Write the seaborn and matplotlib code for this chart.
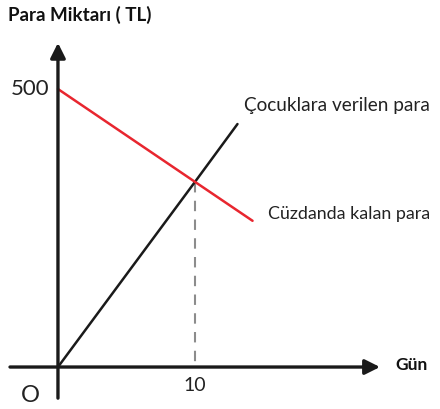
import numpy as np
import pandas as pd
import matplotlib
matplotlib.use("Agg")
import matplotlib.pyplot as plt
import seaborn as sns

# ------------------------------------------------------------
# Dati
# ------------------------------------------------------------
gun_kalan = [0, 10, 14.2]
kalan_para = [500, 333, 263]

gun_verilen = [0, 10, 13.1]
verilen_para = [0, 333, 437]

kesisim_gun = 10
kesisim_para = 333
y_tick = 500

sns.set_style("white")
plt.rcParams["font.family"] = ["Lato", "DejaVu Sans"]

fig = plt.figure(figsize=(4.4, 4.09), dpi=100)
ax = fig.add_axes([0, 0, 1, 1])

# assi con frecce
arrow_kw = dict(arrowstyle="-|>,head_length=0.9,head_width=0.45", color="#1a1a1a", lw=2.4,
                shrinkA=0, shrinkB=0)
ax.annotate("", xy=(23.5, 0), xytext=(-3.5, 0), arrowprops=arrow_kw)
ax.annotate("", xy=(0, 583), xytext=(0, -56), arrowprops=arrow_kw)

# linee dati
df_kalan = pd.DataFrame({"gun": gun_kalan, "para": kalan_para})
df_verilen = pd.DataFrame({"gun": gun_verilen, "para": verilen_para})
sns.lineplot(data=df_verilen, x="gun", y="para", ax=ax, color="#1a1a1a", lw=1.8)
sns.lineplot(data=df_kalan, x="gun", y="para", ax=ax, color="#e8262f", lw=1.8)

# tratteggio verticale
ax.plot([kesisim_gun, kesisim_gun], [kesisim_para, 0], color="#8c8c8c", lw=1.5,
        ls=(0, (5, 4)), zorder=1)
ax.set_xlim(-4.23, 27.88)
ax.set_ylim(-75.5, 660.1)
ax.axis("off")

# testi
fig.text(8 / 440, 1 - 15 / 409, "Para Miktarı ( TL)", fontsize=13.5, fontweight="bold",
         va="center", ha="left", color="#111111")
ax.text(-0.6, y_tick, str(y_tick), fontsize=16, ha="right", va="center", color="#222222")
ax.text(kesisim_gun, -33, str(kesisim_gun), fontsize=14, ha="center", va="center", color="#222222")
ax.text(-1.3, -52, "O", fontsize=17, ha="right", va="center", color="#222222")
ax.text(24.6, 3, "Gün", fontsize=12.5, fontweight="bold", ha="left", va="center", color="#111111")
ax.text(13.6, 470, "Çocuklara verilen para", fontsize=13.7, ha="left", va="center", color="#222222")
ax.text(15.3, 276, "Cüzdanda kalan para", fontsize=12.9, ha="left", va="center", color="#222222")

fig.savefig("out.png", dpi=100)
